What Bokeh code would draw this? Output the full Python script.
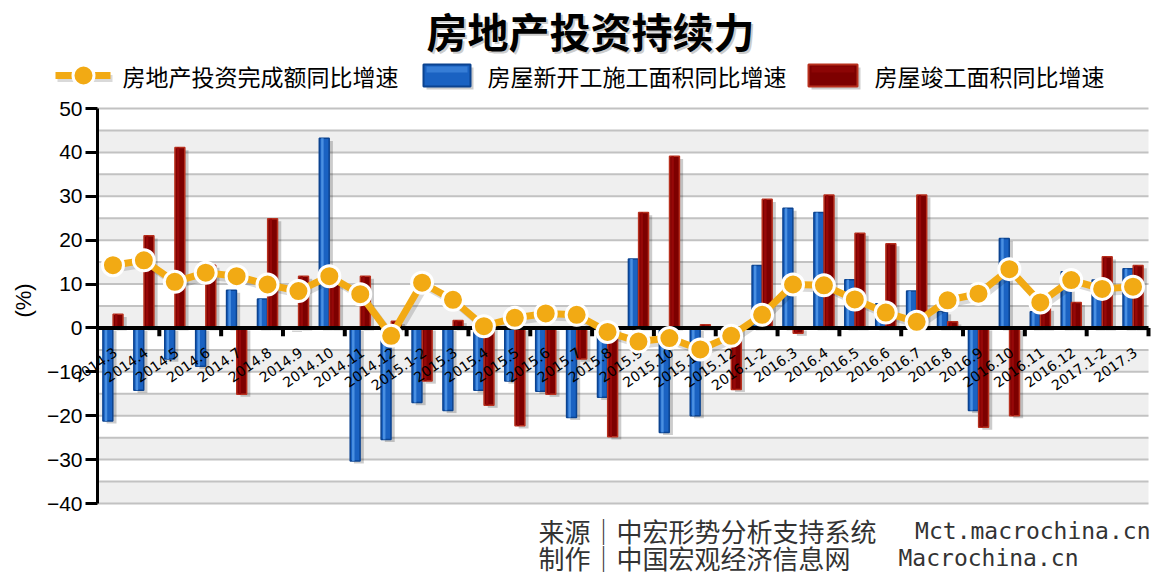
import numpy as np
from bokeh.plotting import figure
from bokeh.models import Range1d, FixedTicker, ColumnDataSource
from bokeh.transform import dodge
from bokeh.core.properties import value
from bokeh.embed import file_html
from bokeh.resources import INLINE

# ---------------- data ----------------
months = ["2014.3", "2014.4", "2014.5", "2014.6", "2014.7", "2014.8", "2014.9", "2014.10",
          "2014.11", "2014.12",
          "2015.1-2", "2015.3", "2015.4", "2015.5", "2015.6", "2015.7", "2015.8", "2015.9",
          "2015.10", "2015.11", "2015.12",
          "2016.1-2", "2016.3", "2016.4", "2016.5", "2016.6", "2016.7", "2016.8", "2016.9",
          "2016.10", "2016.11", "2016.12",
          "2017.1-2", "2017.3"]
investment = [14.3, 15.4, 10.5, 12.6, 11.8, 9.9, 8.4, 11.8, 7.7, -1.8,
              10.3, 6.4, 0.4, 2.3, 3.3, 3.0, -0.9, -3.1, -2.3, -4.9, -1.8,
              3.0, 9.9, 9.7, 6.5, 3.5, 1.4, 6.3, 7.8, 13.4, 5.8, 10.9,
              8.9, 9.4]
new_starts = [-21.2, -14.2, -7.1, -8.7, 8.6, 6.6, -0.3, 43.2, -30.3, -25.4,
              -17.0, -18.8, -14.2, -12.1, -14.4, -20.4, -15.8, 15.7, -23.8, -20.0, -2.5,
              14.2, 27.3, 26.3, 11.0, 5.5, 8.4, 3.7, -18.8, 20.4, 3.7, 12.8,
              10.9, 13.5]
completed = [3.1, 21.0, 41.1, 14.3, -15.1, 24.9, 11.8, 11.5, 11.8, 1.5,
             -12.1, 1.7, -17.6, -22.3, -15.1, -7.1, -24.8, 26.3, 39.1, 0.7, -14.0,
             29.3, -1.2, 30.3, 21.6, 19.2, 30.3, 1.4, -22.6, -20.0, 4.5, 5.8,
             16.2, 14.2]
y_ticks = [-40, -30, -20, -10, 0, 10, 20, 30, 40, 50]
title_text = "房地产投资持续力"
series_names = ["房地产投资完成额同比增速", "房屋新开工施工面积同比增速", "房屋竣工面积同比增速"]
source_line1 = ("来源｜中宏形势分析支持系统", "Mct.macrochina.cn")
source_line2 = ("制作｜中国宏观经济信息网", "Macrochina.cn")

# ---------------- layout constants (pixels) ----------------
W, H = 1175, 577
FL, FR, FT, FB = 97, 1148, 108, 503          # plot area inside the canvas
N = len(months)
YMIN, YMAX = -40, 50
SX = N / (FR - FL)                             # data units per pixel (x)
SY = (YMAX - YMIN) / (FB - FT)                 # data units per pixel (y)


def X(px):
    return -0.5 + (px - FL) * SX


def Y(py):
    return YMAX - (py - FT) * SY


CJK = "Noto Sans CJK SC"
ORANGE = "#F2AA14"
BLUE, BLUE_EDGE, BLUE_HI = "#1a62c2", "#0b4390", "#4a90e2"
RED, RED_EDGE, RED_HI = "#7d0000", "#b8301e", "#960808"

p = figure(width=W, height=H, x_range=Range1d(X(0), X(W)), y_range=Range1d(Y(H), Y(0)),
           output_backend="svg", toolbar_location=None, x_axis_location=None,
           min_border=0)
p.outline_line_color = None
p.background_fill_color = "white"
p.border_fill_color = "white"
p.grid.visible = False

# ---- background bands and grid lines of the plot area ----
grid_vals = np.arange(YMIN, YMAX + 1, 5)
band_bottoms = grid_vals[:-1][::2]
p.quad(left=-0.5, right=N - 0.5, bottom=band_bottoms, top=band_bottoms + 5,
       fill_color="#efefef", line_color=None)
p.segment(x0=-0.5, x1=N - 0.5, y0=grid_vals, y1=grid_vals, line_color="#c2c2c2",
          line_width=2)

# ---- y axis (fixed at the left edge of the plot area) ----
ax = p.yaxis[0]
ax.fixed_location = -0.5
ax.bounds = (YMIN, YMAX)
ax.ticker = FixedTicker(ticks=y_ticks)
ax.major_label_overrides = {t: (str(t).replace("-", "−")) for t in y_ticks}
ax.major_label_text_font = "Liberation Sans"
ax.major_label_text_font_size = "21px"
ax.major_label_text_color = "black"
ax.major_label_standoff = 3
ax.major_tick_out = 12
ax.major_tick_in = 0
ax.major_tick_line_width = 3
ax.major_tick_line_color = "black"
ax.minor_tick_line_color = None
ax.axis_line_width = 3
ax.axis_line_color = "black"

p.text(x=[X(23)], y=[Y(300)], text=["(%)"], angle=np.pi / 2, text_align="center",
       text_baseline="middle", text_font=value("Liberation Sans"), text_font_size="22px",
       text_color="black")

# ---- bars ----
idx = np.arange(N)
src = ColumnDataSource(dict(
    x=idx, inv=investment, ns=new_starts, comp=completed, lab=months,
    ns_st=np.maximum(new_starts, 0) - 0.6, ns_sb=np.minimum(new_starts, 0) - 0.6,
    cp_st=np.maximum(completed, 0) - 0.6, cp_sb=np.minimum(completed, 0) - 0.6,
    inv_s=np.array(investment) - 0.8,
))

BW = 0.32
OFF = 0.165
p.vbar(x=dodge("x", -OFF + 0.12), top="ns_st", bottom="ns_sb", width=BW, source=src,
       fill_color="black", fill_alpha=0.2, line_color=None)
p.vbar(x=dodge("x", OFF + 0.12), top="cp_st", bottom="cp_sb", width=BW, source=src,
       fill_color="black", fill_alpha=0.2, line_color=None)
p.vbar(x=dodge("x", -OFF), top="ns", bottom=0, width=BW, source=src,
       fill_color=BLUE, line_color=BLUE_EDGE, line_width=1.5)
p.vbar(x=dodge("x", -OFF - 0.06), top="ns", bottom=0, width=0.08, source=src,
       fill_color=BLUE_HI, line_color=None)
p.vbar(x=dodge("x", OFF), top="comp", bottom=0, width=BW, source=src,
       fill_color=RED, line_color=RED_EDGE, line_width=1.5)
p.vbar(x=dodge("x", OFF - 0.06), top="comp", bottom=0, width=0.08, source=src,
       fill_color=RED_HI, line_color=None)

# ---- zero line with ticks ----
p.segment(x0=[-0.5], x1=[N - 0.5], y0=[0], y1=[0], line_color="black", line_width=4)
tick_x = np.arange(1.5, N, 2)
p.segment(x0=tick_x, x1=tick_x, y0=0, y1=-1.9, line_color="black", line_width=4)

# ---- category labels ----
p.text(x=dodge("x", 0.08), y=-5.2, text="lab", source=src, angle=np.deg2rad(35),
       text_align="right", text_baseline="middle", text_font=value("DejaVu Sans"),
       text_font_size="14px", text_color="black")

# ---- investment line ----
p.line(x=dodge("x", 0.1), y="inv_s", source=src, line_color="black", line_alpha=0.15,
       line_width=7)
p.line(x="x", y="inv", source=src, line_color=ORANGE, line_width=7)
p.scatter(x="x", y="inv", source=src, size=21, fill_color=ORANGE,
          line_color="white", line_width=3)

# ---- title ----
p.text(x=[X(592)], y=[Y(31)], text=[title_text], text_align="center",
       text_baseline="middle", text_font=value(CJK), text_font_size="41px",
       text_font_style="bold", text_color="#999999", text_alpha=0.5)
p.text(x=[X(590)], y=[Y(29)], text=[title_text], text_align="center",
       text_baseline="middle", text_font=value(CJK), text_font_size="41px",
       text_font_style="bold", text_color="black")

# ---- legend ----
LY = 75
p.line(x=[X(57), X(112)], y=[Y(LY + 3)] * 2, line_color="black", line_alpha=0.15,
       line_width=7)
p.line(x=[X(55), X(110)], y=[Y(LY)] * 2, line_color=ORANGE, line_width=7)
p.scatter(x=[X(83)], y=[Y(LY)], size=21, fill_color=ORANGE, line_color="white",
          line_width=3)
for (x0, x1), fc, ec, hc in [((423, 470), BLUE, BLUE_EDGE, BLUE_HI),
                             ((808, 857), RED, RED_EDGE, RED_HI)]:
    p.quad(left=[X(x0 + 3)], right=[X(x1 + 3)], top=[Y(LY - 8)], bottom=[Y(LY + 14)],
           fill_color="black", fill_alpha=0.2, line_color=None)
    p.quad(left=[X(x0)], right=[X(x1)], top=[Y(LY - 11)], bottom=[Y(LY + 11)],
           fill_color=fc, line_color=ec, line_width=2)
    p.quad(left=[X(x0 + 3)], right=[X(x1 - 3)], top=[Y(LY - 9)], bottom=[Y(LY - 3)],
           fill_color=hc, line_color=None, fill_alpha=0.6)
p.text(x=[X(122), X(487), X(874)], y=[Y(LY)] * 3, text=series_names, text_align="left",
       text_baseline="middle", text_font=value(CJK), text_font_size="23px",
       text_color="black")

# ---- source notes ----
p.text(x=[X(538), X(538)], y=[Y(530), Y(557)], text=[source_line1[0], source_line2[0]],
       text_align="left", text_baseline="middle", text_font=value(CJK),
       text_font_size="26px", text_color="#333333")
p.text(x=[X(1150)], y=[Y(530)], text=[source_line1[1]], text_align="right",
       text_baseline="middle", text_font=value("DejaVu Sans Mono"),
       text_font_size="23px", text_color="#333333")
p.text(x=[X(898)], y=[Y(557)], text=[source_line2[1]], text_align="left",
       text_baseline="middle", text_font=value("DejaVu Sans Mono"),
       text_font_size="23px", text_color="#333333")

open("out.html", "w").write(file_html(p, INLINE))
